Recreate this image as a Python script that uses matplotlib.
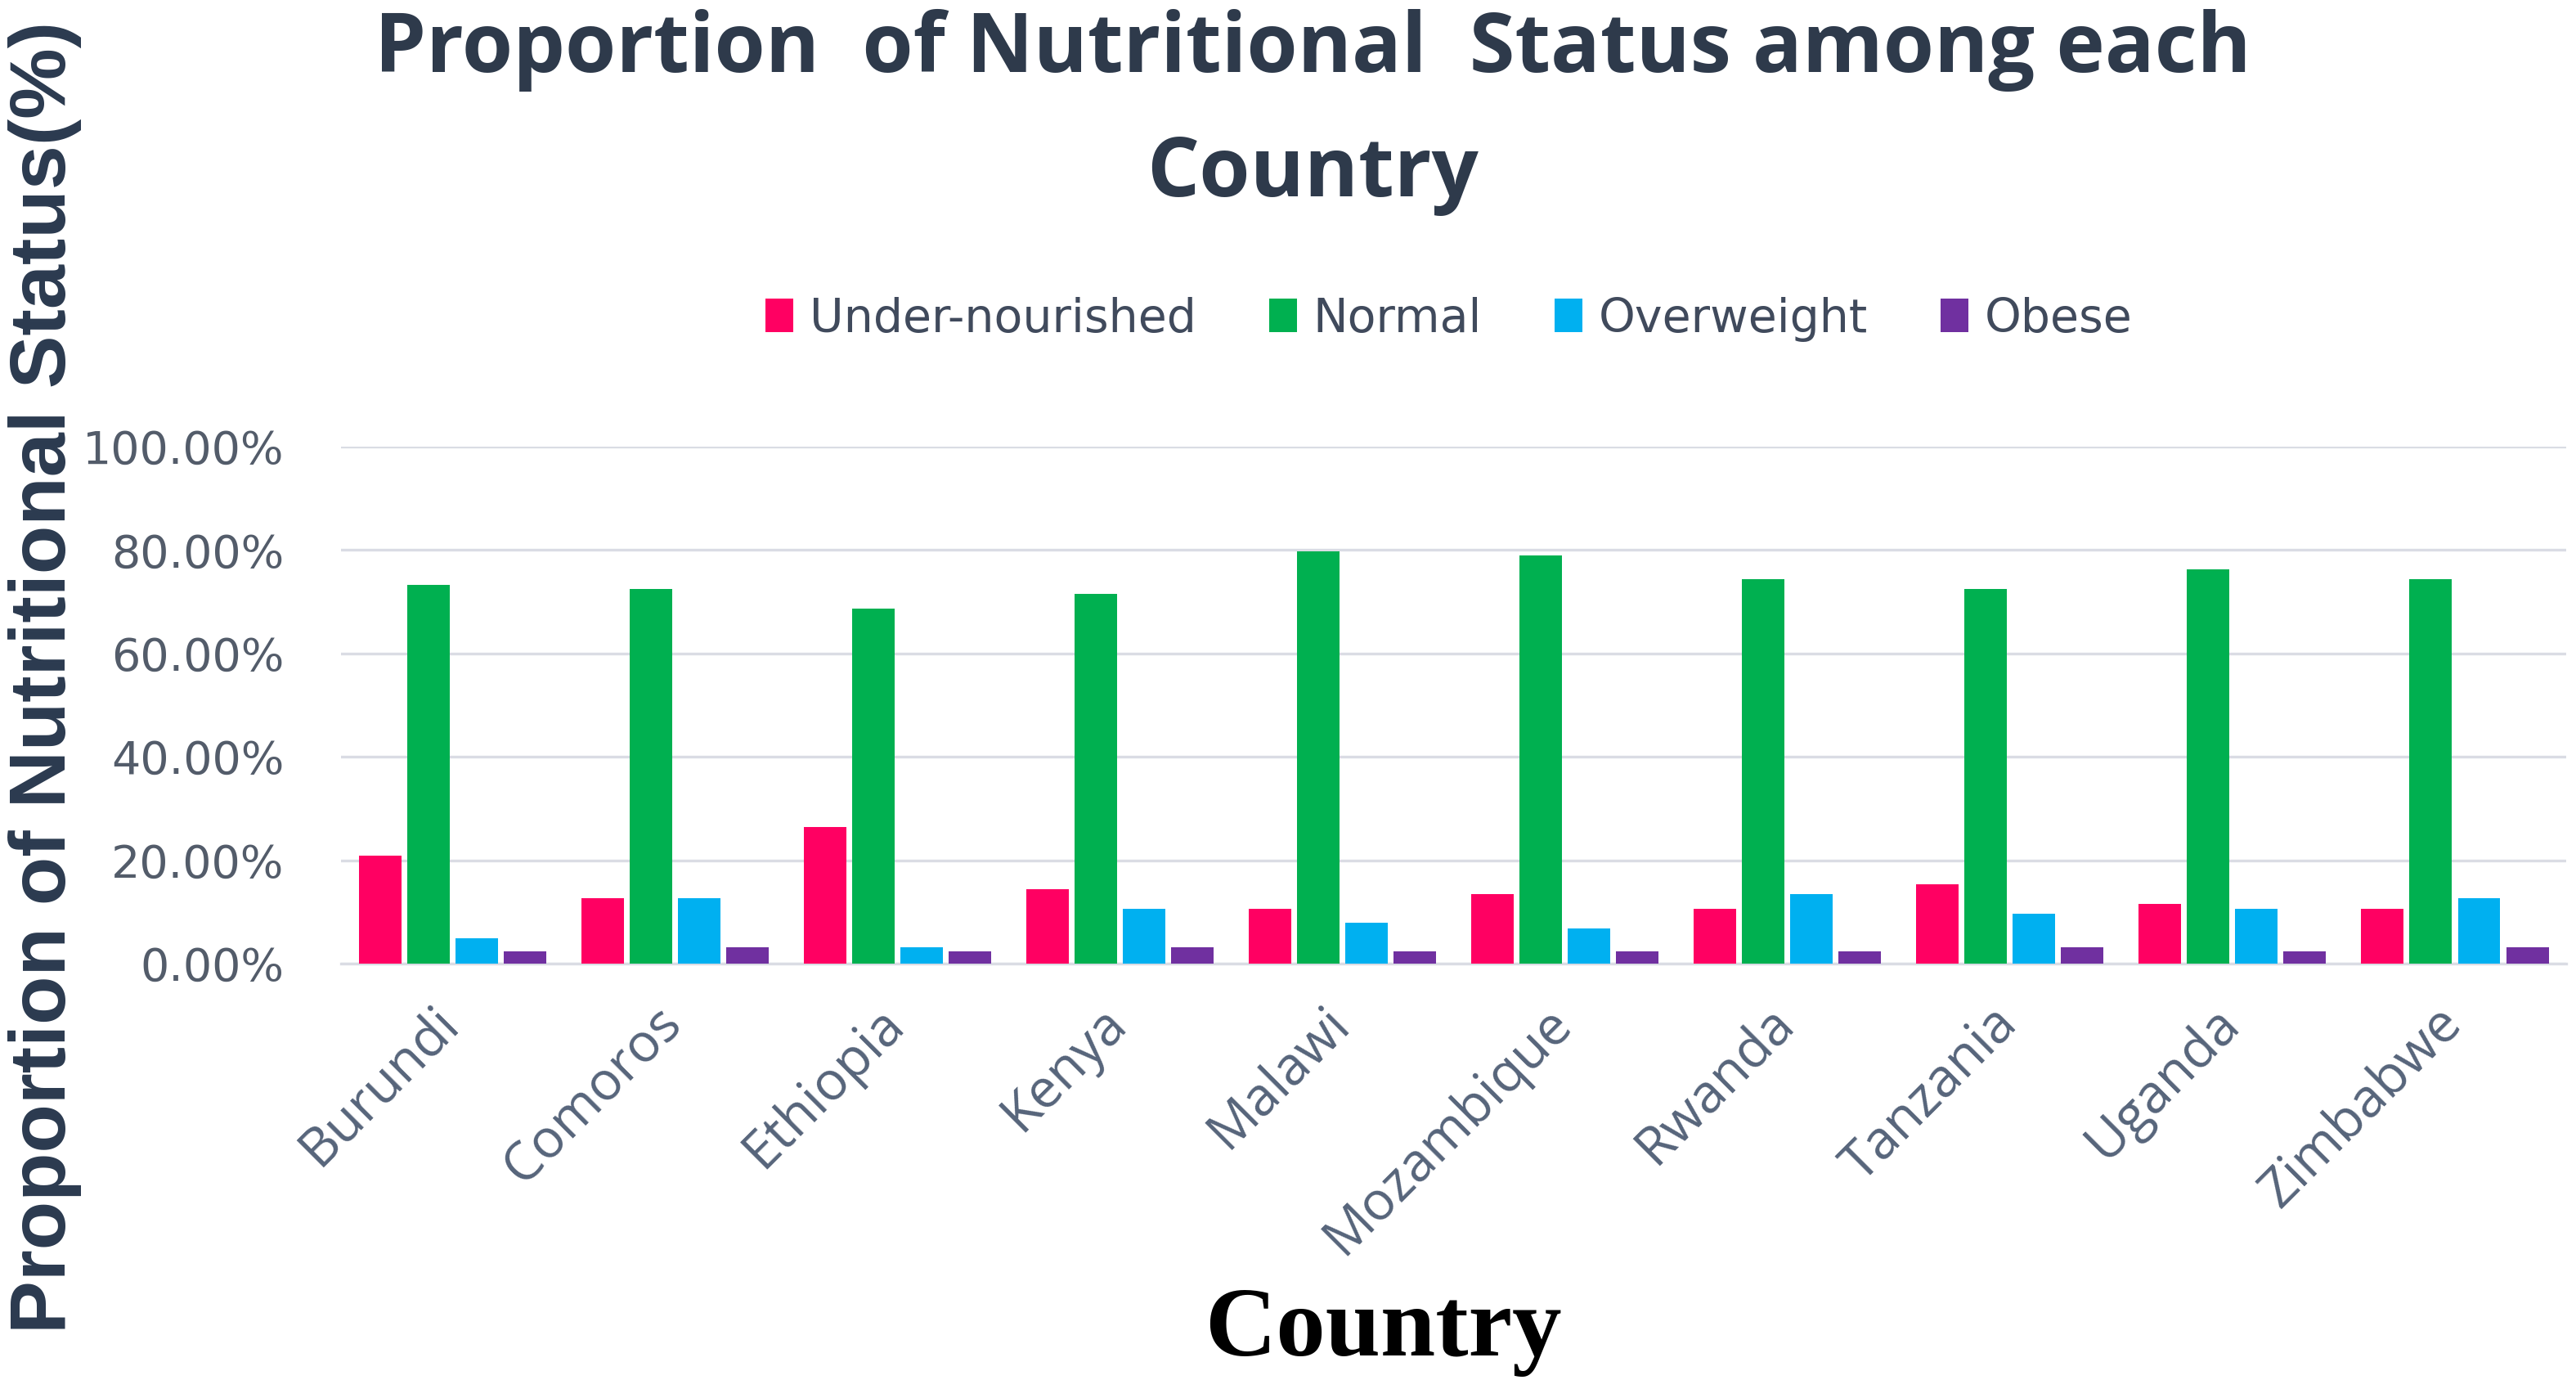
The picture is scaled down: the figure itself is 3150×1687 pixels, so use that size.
import matplotlib
matplotlib.use("Agg")
import matplotlib.pyplot as plt
from matplotlib import font_manager
import numpy as np
from matplotlib.ticker import FuncFormatter
from matplotlib.transforms import ScaledTranslation

countries = ["Burundi", "Comoros", "Ethiopia", "Kenya", "Malawi",
             "Mozambique", "Rwanda", "Tanzania", "Uganda", "Zimbabwe"]
series_names = ["Under-nourished", "Normal", "Overweight", "Obese"]
under_nourished = [20.9, 12.6, 26.5, 14.4, 10.6, 13.5, 10.6, 15.3, 11.5, 10.6]
normal = [73.3, 72.4, 68.6, 71.5, 79.7, 78.9, 74.3, 72.4, 76.2, 74.3]
overweight = [4.9, 12.6, 3.1, 10.6, 7.9, 6.8, 13.5, 9.7, 10.6, 12.6]
obese = [2.3, 3.1, 2.3, 3.1, 2.3, 2.3, 2.3, 3.1, 2.3, 3.1]
yticks = [0, 20, 40, 60, 80, 100]

colors = ["#FF0062", "#00B050", "#00B0F0", "#7030A0"]
grid_color = "#DADCE4"

fig = plt.figure(figsize=(31.5, 16.87), dpi=100, facecolor="white")
ax = fig.add_axes([0.1324, 0.3017, 0.8638, 0.3747])

x = np.arange(len(countries))
step = 0.217
width = 0.191
all_series = [under_nourished, normal, overweight, obese]
for i, (vals, name, c) in enumerate(zip(all_series, series_names, colors)):
    ax.bar(x + (i - 1.5) * step, vals, width=width, color=c, label=name,
           zorder=3, linewidth=0)

ax.set_xlim(-0.5, len(countries) - 0.5)
ax.set_ylim(0, 100)
ax.set_yticks(yticks)
ax.yaxis.set_major_formatter(FuncFormatter(lambda v, p: f"{v:.2f}%"))
ax.grid(axis="y", color=grid_color, linewidth=2.4, zorder=0)
ax.set_axisbelow(True)
for s in ["top", "right", "left"]:
    ax.spines[s].set_visible(False)
ax.spines["bottom"].set_color(grid_color)
ax.spines["bottom"].set_linewidth(2.4)

ax.tick_params(axis="y", length=0, pad=50, labelsize=40, labelcolor="#535C6A")
for t in ax.get_yticklabels():
    t.set_fontfamily("DejaVu Sans")
ax.set_xticks(x)
ax.set_xticklabels(countries, rotation=45, ha="right", va="top",
                   fontsize=47, color="#56647A", family="Open Sans")
ax.tick_params(axis="x", length=0, pad=29)
shift = ScaledTranslation(0.22, 0, fig.dpi_scale_trans)
for t in ax.get_xticklabels():
    t.set_transform(t.get_transform() + shift)

# Title (two lines)
title_color = "#2E3A4B"
fig.text(0.5095, 0.9478, "Proportion  of Nutritional  Status among each",
         ha="center", va="baseline", fontsize=72.5, fontweight="bold",
         family="Open Sans", color=title_color)
fig.text(0.5095, 0.8577, "Country", ha="center", va="baseline", fontsize=72.5,
         fontweight="bold", family="Open Sans", color=title_color)

# Legend
leg = fig.legend(loc="center", bbox_to_anchor=(0.5625, 0.7688), ncol=4,
                 frameon=False, prop={"family": "DejaVu Sans", "size": 41},
                 handlelength=0.6, handleheight=0.72, handletextpad=0.35,
                 columnspacing=1.56, borderaxespad=0, borderpad=0)
for t in leg.get_texts():
    t.set_color("#404A5C")

# Axis labels (condensed face if available)
installed = {f.name for f in font_manager.fontManager.ttflist}
if "Liberation Sans Narrow" in installed:
    ylab_family, ylab_size = "Liberation Sans Narrow", 82
else:
    ylab_family, ylab_size = "Liberation Sans", 70
fig.text(0.0175, 0.509, "Proportion of Nutritional Status(%)", rotation=90,
         ha="center", va="center", fontsize=ylab_size, fontweight="bold",
         family=ylab_family, color="#2B3A4F")
fig.text(0.5368, 0.0178, "Country", ha="center", va="baseline", fontsize=87,
         fontweight="bold", family="Liberation Serif", color="black")

fig.savefig("out.png", dpi=100, facecolor="white")
